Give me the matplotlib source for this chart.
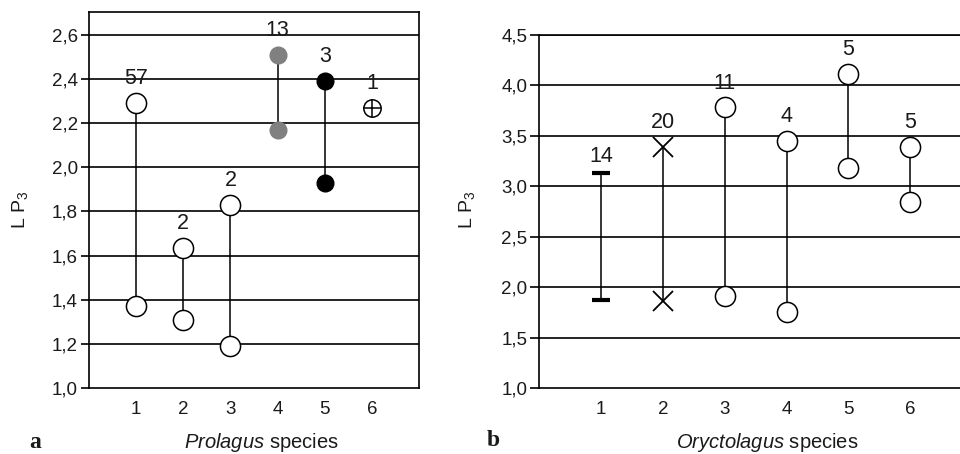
import matplotlib
matplotlib.use('Agg')
import matplotlib.pyplot as plt

plt.rcParams['font.family'] = ['Liberation Sans', 'DejaVu Sans']
plt.rcParams['mathtext.fontset'] = 'custom'
plt.rcParams['mathtext.rm'] = 'Liberation Sans'
plt.rcParams['mathtext.it'] = 'Liberation Sans:italic'

# panel a: Prolagus
prol_species = [1, 2, 3, 4, 5, 6]
prol_max = [2.29, 1.635, 1.83, 2.51, 2.39, 2.27]
prol_min = [1.37, 1.31, 1.19, 2.17, 1.93, 2.27]
prol_n = [57, 2, 2, 13, 3, 1]
prol_yticks = [1.0, 1.2, 1.4, 1.6, 1.8, 2.0, 2.2, 2.4, 2.6]

# panel b: Oryctolagus
oryc_species = [1, 2, 3, 4, 5, 6]
oryc_max = [3.13, 3.39, 3.78, 3.45, 4.11, 3.39]
oryc_min = [1.87, 1.86, 1.91, 1.75, 3.18, 2.84]
oryc_n = [14, 20, 11, 4, 5, 5]
oryc_yticks = [1.0, 1.5, 2.0, 2.5, 3.0, 3.5, 4.0, 4.5]

txt = '#1a1a1a'

fig = plt.figure(figsize=(9.6, 4.54), dpi=100)
ax1 = fig.add_axes([89 / 960, 66 / 454, 330 / 960, 376 / 454])
ax2 = fig.add_axes([539.3 / 960, 66 / 454, 432.6 / 960, 353.3 / 454])


def style(ax, yticks, ylim, ticklen):
    ax.set_xlim(0, 7)
    ax.set_ylim(*ylim)
    ax.set_yticks(yticks)
    ax.set_yticklabels([('%.1f' % v).replace('.', ',') for v in yticks],
                       fontsize=13.5, color=txt)
    ax.set_xticks(range(1, 7))
    ax.set_xticklabels([str(i) for i in range(1, 7)], fontsize=13.5, color=txt)
    ax.tick_params(axis='y', direction='out', length=ticklen, width=1.2, pad=2)
    ax.tick_params(axis='x', length=0, pad=9)
    for yv in yticks[1:]:
        ax.axhline(yv, color='black', lw=1.2, zorder=1)
    for s in ax.spines.values():
        s.set_linewidth(1.2)


style(ax1, prol_yticks, (1.0, 2.703), 6)
style(ax2, oryc_yticks, (1.0, 4.5), 6.5)

# panel a marks
kinds_a = ['open', 'open', 'open', 'gray', 'black', 'cross']
for x, hi, lo, n, k in zip(prol_species, prol_max, prol_min, prol_n, kinds_a):
    if k != 'cross':
        ax1.plot([x, x], [lo, hi], color='black', lw=1.1, zorder=2)
    if k == 'open':
        ax1.plot([x, x], [lo, hi], 'o', ms=14.5, mfc='white', mec='black', mew=1.1, zorder=3)
    elif k == 'gray':
        ax1.plot([x, x], [lo, hi], 'o', ms=12, mfc='#808080', mec='#808080', zorder=3)
    elif k == 'black':
        ax1.plot([x, x], [lo, hi], 'o', ms=12, mfc='black', mec='black', zorder=3)
    else:
        ax1.plot([x], [hi], 'o', ms=12.5, mfc='white', mec='black', mew=1.1, zorder=3)
        ax1.plot([x], [hi], '+', ms=12.5, mec='black', mew=1.1, zorder=4)
    ax1.annotate(str(n), (x, hi), xytext=(0, 17.5), textcoords='offset points',
                 ha='center', va='center', fontsize=15.5, color=txt, zorder=5)

# panel b marks
for x, hi, lo, n in zip(oryc_species, oryc_max, oryc_min, oryc_n):
    ax2.plot([x, x], [lo, hi], color='black', lw=1.1, zorder=2)
    off = 17.5
    if x == 1:
        ax2.plot([x, x], [lo, hi], '_', ms=13, mec='black', mew=3, zorder=3)
        off = 12
    elif x == 2:
        ax2.plot([x, x], [lo, hi], 'x', ms=14, mec='black', mew=1.3, zorder=3)
    else:
        ax2.plot([x, x], [lo, hi], 'o', ms=14.5, mfc='white', mec='black', mew=1.1, zorder=3)
    ax2.annotate(str(n), (x, hi), xytext=(0, off), textcoords='offset points',
                 ha='center', va='center', fontsize=15.5, color=txt, zorder=5)

ylab = r'L P$_{\mathregular{3}}$'
fig.text(20 / 960, 1 - 210 / 454, ylab, rotation=90, ha='center', va='center',
         fontsize=14, color=txt)
fig.text(467 / 960, 1 - 210 / 454, ylab, rotation=90, ha='center', va='center',
         fontsize=14, color=txt)
fig.text(261 / 960, 1 - 442 / 454, r'$\it{Prolagus}$ species', ha='center', va='center',
         fontsize=14.5, color=txt)
fig.text(767 / 960, 1 - 442 / 454, r'$\it{Oryctolagus}$ species', ha='center', va='center',
         fontsize=14.5, color=txt)
fig.text(35 / 960, 1 - 442 / 454, 'a', ha='center', va='center', fontsize=17,
         fontweight='bold', family='Liberation Serif', color=txt)
fig.text(493 / 960, 1 - 440 / 454, 'b', ha='center', va='center', fontsize=17,
         fontweight='bold', family='Liberation Serif', color=txt)

fig.savefig('out.png', dpi=100)
